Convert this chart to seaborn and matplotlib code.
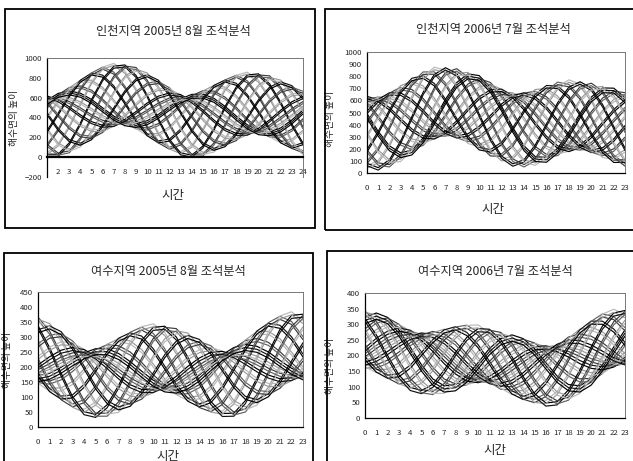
import matplotlib
matplotlib.use("Agg")
import matplotlib.pyplot as plt
import pandas as pd
import seaborn as sns
from matplotlib.patches import Rectangle

# ---------------- data (hourly sea level per day, read/estimated from the picture) ----------------
hours_incheon_2005 = list(range(1, 25))
hours_0_23 = list(range(0, 24))

incheon_2005_08 = [
    [573,643,668,645,582,497,414,357,340,367,431,512,587,633,636,593,512,415,326,267,256,295,375,476],
    [514,629,702,718,675,585,473,371,306,294,338,424,528,619,670,666,605,503,385,281,222,222,282,388],
    [410,567,699,775,776,703,577,433,309,237,237,306,424,557,667,723,706,621,489,343,225,165,181,270],
    [268,444,629,776,848,827,719,556,379,236,165,182,282,434,597,724,778,745,631,466,295,164,109,146],
    [129,284,491,697,849,908,858,716,517,315,164,101,143,274,459,645,779,826,770,626,433,243,108,65],
    [42,134,317,546,762,907,945,866,691,466,251,102,56,119,285,494,692,825,857,776,607,394,167,48],
    [30,30,144,345,582,790,917,930,824,627,391,179,44,20,112,293,512,708,829,840,740,555,335,143],
    [130,41,64,195,401,628,817,919,904,777,572,341,144,31,32,143,331,546,729,829,820,705,516,305],
    [288,143,81,123,260,455,659,817,887,849,713,514,302,133,49,71,190,373,571,727,803,777,657,478],
    [448,290,177,141,196,326,499,670,791,831,777,643,462,280,145,89,126,244,411,580,707,759,721,607],
    [562,431,306,225,211,269,385,529,662,747,762,700,576,421,274,173,141,187,297,439,578,675,706,664],
    [613,529,425,332,279,279,334,431,543,640,694,690,627,519,393,280,209,197,246,341,459,568,638,654],
    [617,579,508,426,358,322,330,381,460,546,615,647,631,569,476,374,288,240,242,291,376,474,559,611],
    [600,600,561,497,428,372,347,360,407,475,545,597,614,590,529,445,358,290,259,270,323,403,489,561],
    [580,613,603,558,490,419,367,347,365,414,483,550,594,603,571,506,420,337,279,257,281,342,427,514],
    [553,623,648,625,562,477,394,337,320,347,411,492,567,613,616,573,492,395,306,247,236,275,355,456],
    [494,609,682,698,655,565,453,351,286,274,318,404,508,599,650,646,585,483,365,261,202,202,262,368],
    [390,547,679,755,756,683,557,413,289,217,217,286,404,537,647,703,686,601,469,323,205,145,161,250],
    [248,424,609,756,828,807,699,536,359,216,145,162,262,414,577,704,758,725,611,446,275,144,89,126],
    [109,264,471,677,829,888,838,696,497,295,144,81,123,254,439,625,759,806,750,606,413,223,88,45],
    [22,114,297,526,742,887,925,846,671,446,231,82,36,99,265,474,672,805,837,756,587,374,147,28],
    [10,10,124,325,562,770,897,910,804,607,371,159,24,0,92,273,492,688,809,820,720,535,315,123],
    [110,21,44,175,381,608,797,899,884,757,552,321,124,11,12,123,311,526,709,809,800,685,496,285],
    [268,123,61,103,240,435,639,797,867,829,693,494,282,113,29,51,170,353,551,707,783,757,637,458],
    [428,270,157,121,176,306,479,650,771,811,757,623,442,260,125,69,106,224,391,560,687,739,701,587],
    [542,411,286,205,191,249,365,509,642,727,742,680,556,401,254,153,121,167,277,419,558,655,686,644],
    [593,509,405,312,259,259,314,411,523,620,674,670,607,499,373,260,189,177,226,321,439,548,618,634],
    [597,559,488,406,338,302,310,361,440,526,595,627,611,549,456,354,268,220,222,271,356,454,539,591],
    [580,580,541,477,408,352,327,340,387,455,525,577,594,570,509,425,338,270,239,250,303,383,469,541],
    [560,593,583,538,470,399,347,327,345,394,463,530,574,583,551,486,400,317,259,237,261,322,407,494],
    [533,603,628,605,542,457,374,317,300,327,391,472,547,593,596,553,472,375,286,227,216,255,335,436],
]

incheon_2006_07 = [
    [491,344,224,167,189,289,443,610,748,819,805,707,551,376,224,135,129,205,339,494,628,703,701,623],
    [587,469,345,251,214,248,347,485,627,735,780,748,647,501,345,219,154,164,243,369,507,619,676,664],
    [630,558,456,354,282,262,304,396,516,632,712,734,690,590,456,322,222,178,200,280,396,516,608,650],
    [633,608,541,450,364,308,301,346,431,536,630,688,693,640,541,418,304,224,197,230,311,420,526,604],
    [609,628,599,531,446,370,325,326,373,455,548,626,669,660,599,499,386,286,221,210,253,339,444,542],
    [569,628,639,600,526,439,365,326,333,386,468,557,629,660,639,568,466,355,261,210,213,270,364,473],
    [511,608,663,662,608,520,423,346,309,324,386,476,571,640,663,630,548,436,319,230,189,208,282,392],
    [426,558,660,708,690,616,508,396,312,278,304,380,486,590,660,676,630,532,404,280,192,162,200,296],
    [315,469,617,722,758,719,619,485,355,264,236,277,375,501,617,690,698,635,515,369,235,148,132,193],
    [194,344,521,681,783,803,740,610,451,305,211,193,254,376,521,649,723,719,636,494,331,189,107,109],
    [98,209,384,579,742,835,836,745,588,407,252,161,158,241,384,547,682,751,732,629,468,291,148,77],
    [60,104,240,433,636,796,874,850,732,553,358,200,120,136,240,401,576,712,770,734,612,437,254,116],
    [80,44,110,264,466,666,814,870,822,682,488,290,140,76,110,232,406,582,710,754,702,566,384,206],
    [190,84,70,154,316,517,704,830,862,792,638,439,250,116,70,122,256,433,600,714,742,676,534,355],
    [334,189,108,115,210,371,560,725,824,831,744,585,394,221,108,83,150,287,456,609,704,715,640,501],
    [471,324,204,147,169,269,423,590,728,799,785,687,531,356,204,115,109,185,319,474,608,683,681,603],
    [567,449,325,231,194,228,327,465,607,715,760,728,627,481,325,199,134,144,223,349,487,599,656,644],
    [610,538,436,334,262,242,284,376,496,612,692,714,670,570,436,302,202,158,180,260,376,496,588,630],
    [613,588,521,430,344,288,281,326,411,516,610,668,673,620,521,398,284,204,177,210,291,400,506,584],
    [589,608,579,511,426,350,305,306,353,435,528,606,649,640,579,479,366,266,201,190,233,319,424,522],
    [549,608,619,580,506,419,345,306,313,366,448,537,609,640,619,548,446,335,241,190,193,250,344,453],
    [491,588,643,642,588,500,403,326,289,304,366,456,551,620,643,610,528,416,299,210,169,188,262,372],
    [406,538,640,688,670,596,488,376,292,258,284,360,466,570,640,656,610,512,384,260,172,142,180,276],
    [295,449,597,702,738,699,599,465,335,244,216,257,355,481,597,670,678,615,495,349,215,128,112,173],
    [174,324,501,661,763,783,720,590,431,285,191,173,234,356,501,629,703,699,616,474,311,169,87,89],
    [78,189,364,559,722,815,816,725,568,387,232,141,138,221,364,527,662,731,712,609,448,271,128,57],
    [40,84,220,413,616,776,854,830,712,533,338,180,100,116,220,381,556,692,750,714,592,417,234,96],
    [60,24,90,244,446,646,794,850,802,662,468,270,120,56,90,212,386,562,690,734,682,546,364,186],
    [170,64,50,134,296,497,684,810,842,772,618,419,230,96,50,102,236,413,580,694,722,656,514,335],
    [314,169,88,95,190,351,540,705,804,811,724,565,374,201,88,63,130,267,436,589,684,695,620,481],
    [451,304,184,127,149,249,403,570,708,779,765,667,511,336,184,95,89,165,299,454,588,663,661,583],
]

yeosu_2005_08 = [
    [171,179,199,224,247,261,261,245,218,186,156,137,133,147,173,208,241,265,275,269,250,222,196,177],
    [158,153,167,195,229,258,274,271,250,215,174,140,120,121,141,179,223,262,288,295,282,251,214,180],
    [156,130,130,152,193,238,276,294,287,258,210,160,118,98,104,136,187,242,290,318,319,294,250,200],
    [180,128,103,107,142,195,252,296,314,303,261,203,142,96,77,91,136,199,266,320,346,339,301,243],
    [229,155,101,77,91,137,203,269,316,333,312,261,191,123,75,61,85,141,217,293,348,369,352,301],
    [292,210,132,76,59,83,140,214,285,334,344,315,254,178,106,60,53,87,154,238,317,370,384,355],
    [338,265,180,101,51,42,74,139,217,289,332,336,300,233,154,85,45,46,88,163,249,325,372,376],
    [366,320,245,160,88,46,46,84,152,230,295,332,328,288,219,144,82,50,60,108,184,266,335,372],
    [359,345,296,223,146,84,53,59,101,167,237,294,321,313,270,207,140,88,67,83,133,203,277,334],
    [324,337,318,269,203,137,88,67,79,121,180,241,286,305,292,253,197,141,102,91,111,157,220,281],
    [277,306,311,287,243,188,135,98,86,103,140,190,239,274,285,271,237,192,149,122,118,139,180,230],
    [235,266,284,281,259,221,177,138,113,109,124,157,197,234,258,265,253,225,191,162,145,145,164,197],
    [207,234,256,265,258,237,205,170,141,125,125,141,169,202,230,249,252,241,219,194,173,161,165,181],
    [191,211,233,247,251,242,221,193,164,143,132,136,153,179,207,231,245,246,235,217,196,179,172,176],
    [177,192,213,232,245,246,235,212,184,158,138,132,139,160,187,216,239,250,249,236,216,194,178,172],
    [161,169,189,214,237,251,251,235,208,176,146,127,123,137,163,198,231,255,265,259,240,212,186,167],
    [148,143,157,185,219,248,264,261,240,205,164,130,110,111,131,169,213,252,278,285,272,241,204,170],
    [146,120,120,142,183,228,266,284,277,248,200,150,108,88,94,126,177,232,280,308,309,284,240,190],
    [170,118,93,97,132,185,242,286,304,293,251,193,132,86,67,81,126,189,256,310,336,329,291,233],
    [219,145,91,67,81,127,193,259,306,323,302,251,181,113,65,51,75,131,207,283,338,359,342,291],
    [282,200,122,66,49,73,130,204,275,324,334,305,244,168,96,50,43,77,144,228,307,360,374,345],
    [328,255,170,91,41,32,64,129,207,279,322,326,290,223,144,75,35,36,78,153,239,315,362,366],
    [356,310,235,150,78,36,36,74,142,220,285,322,318,278,209,134,72,40,50,98,174,256,325,362],
    [349,335,286,213,136,74,43,49,91,157,227,284,311,303,260,197,130,78,57,73,123,193,267,324],
    [314,327,308,259,193,127,78,57,69,111,170,231,276,295,282,243,187,131,92,81,101,147,210,271],
    [267,296,301,277,233,178,125,88,76,93,130,180,229,264,275,261,227,182,139,112,108,129,170,220],
    [225,256,274,271,249,211,167,128,103,99,114,147,187,224,248,255,243,215,181,152,135,135,154,187],
    [197,224,246,255,248,227,195,160,131,115,115,131,159,192,220,239,242,231,209,184,163,151,155,171],
    [181,201,223,237,241,232,211,183,154,133,122,126,143,169,197,221,235,236,225,207,186,169,162,166],
    [167,182,203,222,235,236,225,202,174,148,128,122,129,150,177,206,229,240,239,226,206,184,168,162],
    [151,159,179,204,227,241,241,225,198,166,136,117,113,127,153,188,221,245,255,249,230,202,176,157],
]

yeosu_2006_07 = [
    [322,336,322,282,227,170,125,103,107,134,177,222,254,266,254,222,177,134,107,103,125,170,227,282],
    [285,314,320,300,261,211,162,125,109,116,143,181,217,244,252,240,211,175,144,125,127,152,193,241],
    [250,283,302,299,278,241,197,156,127,117,126,151,182,213,234,239,228,205,179,156,145,153,176,211],
    [224,255,278,288,281,258,223,184,151,128,123,134,156,185,210,228,231,222,205,184,169,164,173,194],
    [206,232,257,273,278,267,241,207,172,143,126,125,138,162,189,213,228,231,223,207,190,179,176,185],
    [192,211,236,258,271,271,255,228,193,158,133,121,124,141,168,198,221,235,237,228,211,194,183,181],
    [179,191,213,238,261,272,268,248,216,178,143,120,111,121,145,178,211,236,250,248,234,214,193,180],
    [170,170,185,211,241,266,277,269,244,205,163,126,102,100,117,151,191,230,259,269,262,241,213,186],
    [174,155,156,176,210,246,273,284,273,240,194,146,106,85,88,116,160,210,255,284,291,276,244,206],
    [196,157,137,142,169,210,251,282,292,274,235,182,128,87,69,82,119,174,233,282,310,310,285,242],
    [236,180,138,119,129,163,211,259,291,297,275,229,168,110,70,59,79,127,193,259,309,333,325,289],
    [286,224,164,120,106,121,161,215,265,296,298,271,218,154,96,60,56,85,143,215,283,332,348,331],
    [319,266,200,138,98,88,108,153,209,258,286,284,251,196,132,78,48,52,90,153,227,294,336,344],
    [342,309,251,184,126,91,85,110,158,212,258,281,274,239,183,124,76,55,67,110,176,248,308,341],
    [338,330,292,234,171,119,89,89,117,162,213,253,270,260,224,174,121,83,71,89,135,198,263,313],
    [312,326,312,272,217,160,115,93,97,124,167,212,244,256,244,212,167,124,97,93,115,160,217,272],
    [275,304,310,290,251,201,152,115,99,106,133,171,207,234,242,230,201,165,134,115,117,142,183,231],
    [240,273,292,289,268,231,187,146,117,107,116,141,172,203,224,229,218,195,169,146,135,143,166,201],
    [214,245,268,278,271,248,213,174,141,118,113,124,146,175,200,218,221,212,195,174,159,154,163,184],
    [196,222,247,263,268,257,231,197,162,133,116,115,128,152,179,203,218,221,213,197,180,169,166,175],
    [182,201,226,248,261,261,245,218,183,148,123,111,114,131,158,188,211,225,227,218,201,184,173,171],
    [169,181,203,228,251,262,258,238,206,168,133,110,101,111,135,168,201,226,240,238,224,204,183,170],
    [160,160,175,201,231,256,267,259,234,195,153,116,92,90,107,141,181,220,249,259,252,231,203,176],
    [164,145,146,166,200,236,263,274,263,230,184,136,96,75,78,106,150,200,245,274,281,266,234,196],
    [186,147,127,132,159,200,241,272,282,264,225,172,118,77,59,72,109,164,223,272,300,300,275,232],
    [226,170,128,109,119,153,201,249,281,287,265,219,158,100,60,49,69,117,183,249,299,323,315,279],
    [276,214,154,110,96,111,151,205,255,286,288,261,208,144,86,50,46,75,133,205,273,322,338,321],
    [309,256,190,128,88,78,98,143,199,248,276,274,241,186,122,68,38,42,80,143,217,284,326,334],
    [332,299,241,174,116,81,75,100,148,202,248,271,264,229,173,114,66,45,57,100,166,238,298,331],
    [328,320,282,224,161,109,79,79,107,152,203,243,260,250,214,164,111,73,61,79,125,188,253,303],
    [302,316,302,262,207,150,105,83,87,114,157,202,234,246,234,202,157,114,87,83,105,150,207,262],
]

titles = ["인천지역 2005년 8월 조석분석", "인천지역 2006년 7월 조석분석",
          "여수지역 2005년 8월 조석분석", "여수지역 2006년 7월 조석분석"]
x_label = "시간"
y_label = "해수면의 높이"

# ---------------- style ----------------
sns.set_style("white")
plt.rcParams["font.family"] = ["Noto Sans CJK KR", "DejaVu Sans"]

W, H = 633, 461
fig = plt.figure(figsize=(W / 100, H / 100), dpi=100)


def frac_rect(left, top, right, bottom):
    return [left / W, 1 - bottom / H, (right - left) / W, (bottom - top) / H]


def long_df(rows, hours):
    recs = []
    for d, row in enumerate(rows):
        for h, v in zip(hours, row):
            recs.append((d + 1, h, v))
    return pd.DataFrame(recs, columns=["day", "hour", "height"])


base_cols = ["#000000", "#3c3c3c", "#9a9a9a", "#111111", "#606060", "#b8b8b8"]

panels = [
    dict(rows=incheon_2005_08, hours=hours_incheon_2005, rect=(47, 58, 303, 177),
         ylim=(-200, 1000), yticks=list(range(-200, 1001, 200)), xlim=(1, 24),
         xticks=list(range(2, 25)), title_xy=(173, 32), xlab_xy=(173, 196),
         frame=(5, 9, 315, 228), ylab_x=-0.11, ylab_y=0.5, zero_axis=True),
    dict(rows=incheon_2006_07, hours=hours_0_23, rect=(367, 52, 625, 173),
         ylim=(0, 1000), yticks=list(range(0, 1001, 100)), xlim=(0, 23),
         xticks=list(range(0, 24)), title_xy=(493, 30), xlab_xy=(493, 209),
         frame=(325, 9, 645, 230), ylab_x=-0.125, ylab_y=0.45, zero_axis=False),
    dict(rows=yeosu_2005_08, hours=hours_0_23, rect=(38, 292, 303, 427),
         ylim=(0, 450), yticks=list(range(0, 451, 50)), xlim=(0, 23),
         xticks=list(range(0, 24)), title_xy=(168, 272), xlab_xy=(168, 456),
         frame=(4, 253, 313, 480), ylab_x=-0.1, ylab_y=0.5, zero_axis=False),
    dict(rows=yeosu_2006_07, hours=hours_0_23, rect=(365, 293, 625, 418),
         ylim=(0, 400), yticks=list(range(0, 401, 50)), xlim=(0, 23),
         xticks=list(range(0, 24)), title_xy=(495, 272), xlab_xy=(495, 450),
         frame=(327, 251, 645, 480), ylab_x=-0.115, ylab_y=0.42, zero_axis=False),
]

for i, p in enumerate(panels):
    ax = fig.add_axes(frac_rect(*p["rect"]))
    df = long_df(p["rows"], p["hours"])
    n = len(p["rows"])
    pal = [base_cols[j % len(base_cols)] for j in range(n)]
    sns.lineplot(data=df, x="hour", y="height", hue="day", palette=pal,
                 estimator=None, legend=False, linewidth=0.85, ax=ax)
    ax.set_xlim(*p["xlim"])
    ax.set_ylim(*p["ylim"])
    ax.set_yticks(p["yticks"])
    ax.set_xticks(p["xticks"])
    ax.set_xlabel("")
    ax.set_ylabel(y_label, fontsize=7)
    ax.yaxis.set_label_coords(p["ylab_x"], p["ylab_y"])
    ax.tick_params(axis="y", labelsize=5.6, length=2, width=0.6, pad=1.5, direction="out")
    for s in ["top", "right", "bottom"]:
        ax.spines[s].set_color("#777777")
        ax.spines[s].set_linewidth(0.7)
        ax.spines[s].set_linestyle((0, (1, 1)))
    ax.spines["left"].set_color("black")
    ax.spines["left"].set_linewidth(0.9)
    if p["zero_axis"]:
        ax.spines["bottom"].set_position(("data", 0))
        ax.spines["bottom"].set_color("black")
        ax.spines["bottom"].set_linewidth(1.6)
        ax.spines["bottom"].set_linestyle("-")
        ax.add_patch(Rectangle((0, 0), 1, 1, transform=ax.transAxes, fill=False,
                               ec="#777777", lw=0.7, ls=(0, (1, 1))))
        ax.tick_params(axis="x", labelsize=5.6, length=2, width=0.6, pad=8, direction="in")
    else:
        ax.spines["bottom"].set_color("black")
        ax.spines["bottom"].set_linewidth(0.9)
        ax.spines["bottom"].set_linestyle("-")
        ax.tick_params(axis="x", labelsize=5.6, length=2, width=0.6, pad=8, direction="in")
    ax.grid(False)

    tx, ty = p["title_xy"]
    fig.text(tx / W, 1 - ty / H, titles[i], ha="center", va="center", fontsize=8.8)
    lx, ly = p["xlab_xy"]
    fig.text(lx / W, 1 - ly / H, x_label, ha="center", va="center", fontsize=9)
    fx0, fy0, fx1, fy1 = p["frame"]
    fig.add_artist(Rectangle((fx0 / W, 1 - fy1 / H), (fx1 - fx0) / W, (fy1 - fy0) / H,
                             transform=fig.transFigure, fill=False, ec="black", lw=1.3))

fig.savefig("out.png", dpi=100)
